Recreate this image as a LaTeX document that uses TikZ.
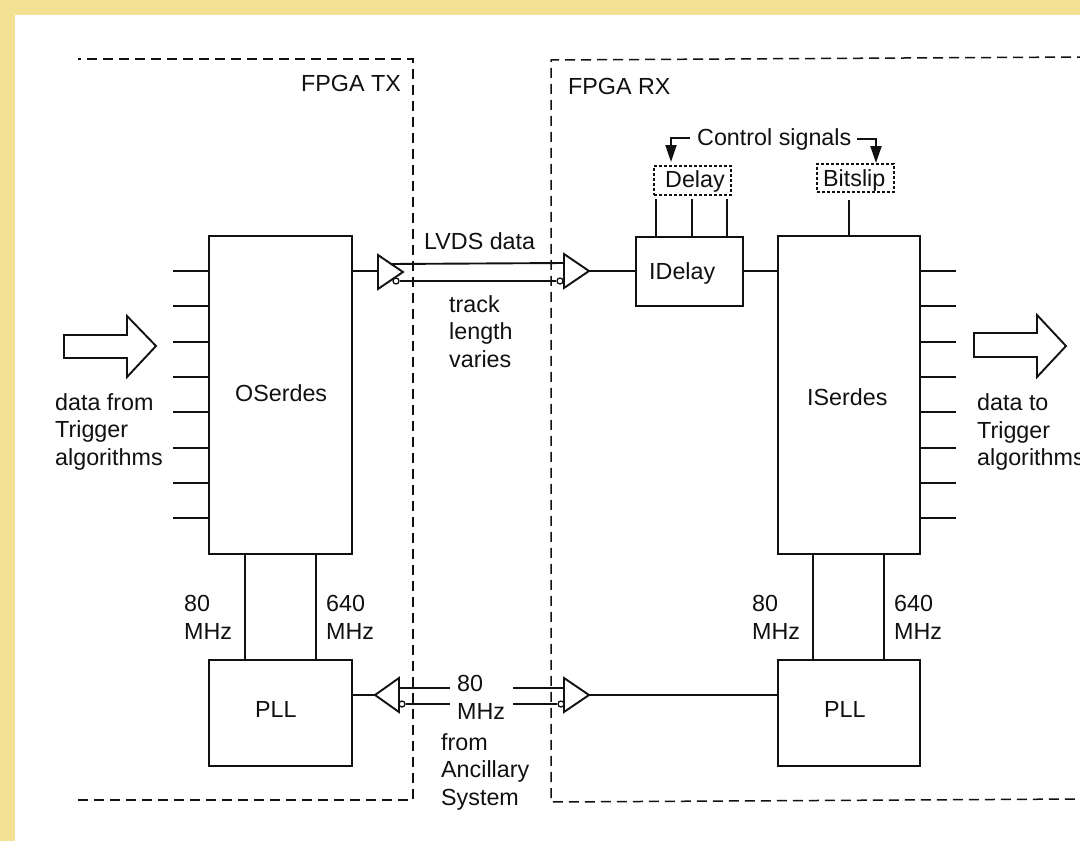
\documentclass[tikz,border=0pt]{standalone}
\usepackage{fontspec}
\setmainfont{Liberation Sans}
\usetikzlibrary{arrows.meta}
\definecolor{pagebg}{HTML}{F3E293}
\definecolor{ink}{HTML}{111111}
\tikzset{
  wire/.style={draw=ink,line width=1.9pt},
  block/.style={draw=ink,line width=1.9pt,fill=white},
  frame/.style={draw=ink,line width=1.5pt,dash pattern=on 10pt off 6pt,dash phase=7pt},
  dotbox/.style={draw=ink,line width=1.5pt,dash pattern=on 3pt off 2pt},
  lbl/.style={anchor=base west,inner sep=0pt,text=ink,font=\fontsize{23.3}{27}\selectfont},
  bubble/.style={circle,draw=ink,line width=1.3pt,fill=white,minimum size=6pt,inner sep=0pt},
  sig/.style={wire,-{Triangle[length=17pt,width=11pt]}}
}
\begin{document}
\begin{tikzpicture}[x=1pt,y=-1pt]
\useasboundingbox (0,0) rectangle (1080,841);
\fill[pagebg] (0,0) rectangle (1080,841);
\fill[white] (15,15) rectangle (1080,841);
% FPGA frames
\coordinate (txa) at (78,59); \coordinate (txb) at (413,59);
\coordinate (txc) at (413,800); \coordinate (txd) at (76,800);
\coordinate (rxa) at (1080,57); \coordinate (rxb) at (551,60);
\coordinate (rxc) at (551,802); \coordinate (rxd) at (1080,799);
\draw[frame] (txa) -- (txb) -- (txc) -- (txd);
\draw[frame] (rxa) -- (rxb) -- (rxc) -- (rxd);
% Blocks
\node[block,minimum width=143pt,minimum height=318pt,inner sep=0pt] (oserdes) at (280.5,395) {};
\node[block,minimum width=142pt,minimum height=318pt,inner sep=0pt] (iserdes) at (849,395) {};
\node[block,minimum width=107pt,minimum height=69pt,inner sep=0pt] (idelay) at (689.5,271.5) {};
\node[block,minimum width=143pt,minimum height=106pt,inner sep=0pt] (plltx) at (280.5,713) {};
\node[block,minimum width=142pt,minimum height=106pt,inner sep=0pt] (pllrx) at (849,713) {};
\node[dotbox,minimum width=77pt,minimum height=29pt,inner sep=0pt] (delaybox) at (692.5,180.5) {};
\node[dotbox,minimum width=77pt,minimum height=28pt,inner sep=0pt] (bitbox) at (855.5,178) {};
% Parallel stubs
\foreach \y/\n in {271/a,306/b,342/c,377/d,412/e,448/f,483/g,518/h}{
  \coordinate (ls\n) at (173,\y); \coordinate (le\n) at (209,\y);
  \coordinate (rs\n) at (920,\y); \coordinate (re\n) at (956,\y);
  \draw[wire] (ls\n) -- (le\n);
  \draw[wire] (rs\n) -- (re\n);
}
% Clock lines
\coordinate (c1a) at (245,554); \coordinate (c1b) at (245,660);
\coordinate (c2a) at (316,554); \coordinate (c2b) at (316,660);
\coordinate (c3a) at (813,554); \coordinate (c3b) at (813,660);
\coordinate (c4a) at (884,554); \coordinate (c4b) at (884,660);
\draw[wire] (c1a) -- (c1b); \draw[wire] (c2a) -- (c2b);
\draw[wire] (c3a) -- (c3b); \draw[wire] (c4a) -- (c4b);
% Top differential pair
\coordinate (t1tip) at (403,272);
\coordinate (t2tip) at (589,271);
\coordinate (d1a) at (390,264); \coordinate (d1b) at (564,263);
\coordinate (d2b) at (564,281);
\node[bubble] (b1) at (396,281) {};
\node[bubble] (b2) at (560,281) {};
\draw[wire] (d1a) -- (d1b);
\draw[wire] (b1) -- (b2);
\draw[wire] (b2) -- (d2b);
\draw[block,fill=none] (378,255) -- (378,289) -- (t1tip) -- cycle;
\draw[block,fill=none] (564,254) -- (564,288) -- (t2tip) -- cycle;
\coordinate (t1in) at (378,271);
\coordinate (osr) at (352,271);
\draw[wire] (osr) -- (t1in);
\coordinate (idl) at (636,271);
\draw[wire] (t2tip) -- (idl);
\coordinate (idr) at (743,271); \coordinate (isl) at (778,271);
\draw[wire] (idr) -- (isl);
% Bottom differential pair
\coordinate (l1tip) at (375,695);
\coordinate (l2tip) at (589,695);
\coordinate (e1a) at (399,688); \coordinate (e1b) at (450,688);
\coordinate (e2b) at (450,704);
\coordinate (e3a) at (513,688); \coordinate (e3b) at (564,688);
\coordinate (e4a) at (513,704); \coordinate (e4b) at (564,704);
\node[bubble] (b3) at (402,704) {};
\node[bubble] (b4) at (561,704) {};
\draw[wire] (e1a) -- (e1b);
\draw[wire] (b3) -- (e2b);
\draw[wire] (e3a) -- (e3b);
\draw[wire] (e4a) -- (b4);
\draw[wire] (b4) -- (e4b);
\draw[block,fill=none] (399,678) -- (399,712) -- (l1tip) -- cycle;
\draw[block,fill=none] (564,678) -- (564,712) -- (l2tip) -- cycle;
\coordinate (ptr) at (352,695); \coordinate (prl) at (778,695);
\draw[wire] (ptr) -- (l1tip);
\draw[wire] (l2tip) -- (prl);
% Delay / bitslip connections
\foreach \x/\n in {656/p,692/q,727/r}{
  \coordinate (dt\n) at (\x,199); \coordinate (db\n) at (\x,237);
  \draw[wire] (dt\n) -- (db\n);
}
\coordinate (bt) at (849,200); \coordinate (bb) at (849,236);
\draw[wire] (bt) -- (bb);
% Control arrows
\coordinate (ca) at (690,138); \coordinate (cb) at (671,138); \coordinate (cc) at (671,162);
\coordinate (cd) at (857,139); \coordinate (ce) at (876,139); \coordinate (cf) at (876,163);
\draw[sig] (ca) -- (cb) -- (cc);
\draw[sig] (cd) -- (ce) -- (cf);
% Block arrows
\draw[block] (64,335) -- (127,335) -- (127,316) -- (156,346) -- (127,377) -- (127,358) -- (64,358) -- cycle;
\draw[block] (974,333) -- (1037,333) -- (1037,315) -- (1066,346) -- (1037,377) -- (1037,357) -- (974,357) -- cycle;
% Labels
\node[lbl] (l01) at (301,91) {FPGA TX};
\node[lbl] (l02) at (568,94) {FPGA RX};
\node[lbl] (l03) at (697,145) {Control signals};
\node[lbl] (l04) at (665,187) {Delay};
\node[lbl] (l05) at (823,186) {Bitslip};
\node[lbl] (l06) at (424,249) {LVDS data};
\node[lbl] (l07) at (449,312) {track};
\node[lbl] (l08) at (449,339) {length};
\node[lbl] (l09) at (449,367) {varies};
\node[lbl] (l10) at (649,279) {IDelay};
\node[lbl] (l11) at (235,401) {OSerdes};
\node[lbl] (l12) at (807,405) {ISerdes};
\node[lbl] (l13) at (55,410) {data from};
\node[lbl] (l14) at (55,437) {Trigger};
\node[lbl] (l15) at (55,465) {algorithms};
\node[lbl] (l16) at (977,410) {data to};
\node[lbl] (l17) at (977,438) {Trigger};
\node[lbl] (l18) at (977,465) {algorithms};
\node[lbl] (l19) at (184,611) {80};
\node[lbl] (l20) at (184,639) {MHz};
\node[lbl] (l21) at (326,611) {640};
\node[lbl] (l22) at (326,639) {MHz};
\node[lbl] (l23) at (752,611) {80};
\node[lbl] (l24) at (752,639) {MHz};
\node[lbl] (l25) at (894,611) {640};
\node[lbl] (l26) at (894,639) {MHz};
\node[lbl] (l27) at (255,717) {PLL};
\node[lbl] (l28) at (824,717) {PLL};
\node[lbl] (l29) at (457,691) {80};
\node[lbl] (l30) at (457,719) {MHz};
\node[lbl] (l31) at (441,750) {from};
\node[lbl] (l32) at (441,777) {Ancillary};
\node[lbl] (l33) at (441,805) {System};
\end{tikzpicture}
\end{document}
